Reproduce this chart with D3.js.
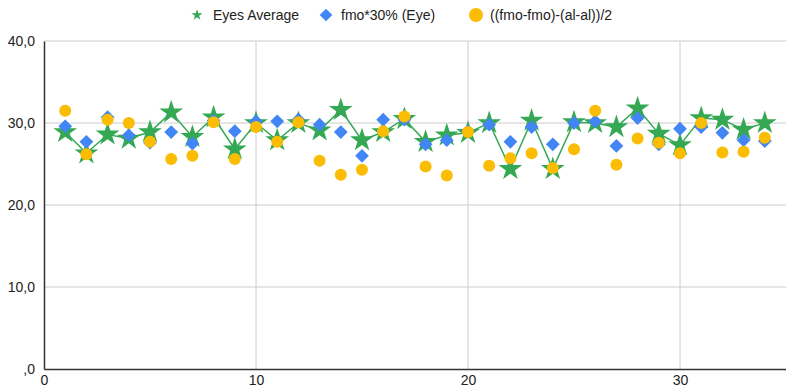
<!DOCTYPE html>
<html>
<head>
<meta charset="utf-8">
<script src="https://cdn.jsdelivr.net/npm/d3@7"></script>
<style>
  body { margin: 0; background: #fff; }
  svg { display: block; font-family: "Liberation Sans", Arial, sans-serif; }
</style>
</head>
<body>
<svg id="chart" width="786" height="392"></svg>
<script>
// Chart data
const seriesNames = ["Eyes Average", "fmo*30% (Eye)", "((fmo-fmo)-(al-al))/2"];
const xValues = d3.range(1, 35);
const eyesAverage = [28.9, 26.3, 28.6, 28.1, 28.9, 31.3, 28.3, 30.7, 26.8, 30.0,
  27.9, 30.0, 29.1, 31.6, 27.9, 28.9, 30.5, 27.7, 28.5, 28.8,
  30.0, 24.4, 30.3, 24.4, 30.1, 30.0, 29.5, 31.8, 28.7, 27.3,
  30.6, 30.4, 29.2, 30.0];
const fmoEye = [29.6, 27.7, 30.7, 28.5, 27.6, 28.9, 27.5, 30.3, 29.0, 30.2,
  30.2, 30.4, 29.8, 28.9, 26.0, 30.4, 30.4, 27.4, 27.9, 29.0,
  29.8, 27.7, 29.5, 27.4, 30.0, 30.2, 27.2, 30.6, 27.4, 29.3,
  29.5, 28.8, 27.9, 27.8];
const diffHalf = [31.5, 26.2, 30.4, 30.0, 27.7, 25.6, 26.0, 30.1, 25.6, 29.5,
  27.7, 30.1, 25.4, 23.7, 24.3, 29.0, 30.8, 24.7, 23.6, 28.9,
  24.8, 25.7, 26.3, 24.5, 26.8, 31.5, 24.9, 28.1, 27.6, 26.3,
  30.0, 26.4, 26.5, 28.2];
const xTicks = [0, 10, 20, 30];
const yTicks = [0, 10, 20, 30, 40];

const colors = ["#34a853", "#4285f4", "#fbbc04"];

const svg = d3.select("#chart");
const margin = { top: 41, right: 0, bottom: 23, left: 44 };
const width = +svg.attr("width");
const height = +svg.attr("height");

const x = d3.scaleLinear().domain([0, 35]).range([margin.left, width - margin.right]);
const y = d3.scaleLinear().domain([0, 40]).range([height - margin.bottom, margin.top]);

// Gridlines
svg.append("g")
  .selectAll("line")
  .data(yTicks.filter(d => d > 0))
  .enter().append("line")
  .attr("x1", x(0)).attr("x2", width)
  .attr("y1", d => y(d)).attr("y2", d => y(d))
  .attr("stroke", "#cccccc").attr("stroke-width", 1);

svg.append("g")
  .selectAll("line")
  .data(xTicks.filter(d => d > 0))
  .enter().append("line")
  .attr("x1", d => x(d)).attr("x2", d => x(d))
  .attr("y1", y(40)).attr("y2", y(0))
  .attr("stroke", "#cccccc").attr("stroke-width", 1);

// Axes
const yAxis = d3.axisLeft(y).tickValues(yTicks).tickSize(0).tickPadding(9)
  .tickFormat(d => d === 0 ? ",0" : d3.format(".1f")(d).replace(".", ","));
svg.append("g")
  .attr("transform", `translate(${x(0)},0)`)
  .call(yAxis)
  .call(g => g.select(".domain").attr("stroke", "#333").attr("stroke-width", 1.5))
  .call(g => g.selectAll("text").attr("fill", "#222").attr("font-size", 14)
    .attr("font-family", "'Liberation Sans', Arial, sans-serif"));

const xAxis = d3.axisBottom(x).tickValues(xTicks).tickSize(0).tickPadding(6);
svg.append("g")
  .attr("transform", `translate(0,${y(0)})`)
  .call(xAxis)
  .call(g => g.select(".domain").attr("stroke", "#333").attr("stroke-width", 1.5))
  .call(g => g.selectAll("text").attr("fill", "#222").attr("font-size", 14)
    .attr("font-family", "'Liberation Sans', Arial, sans-serif"));

// Eyes Average line + stars
const line = d3.line().x((d, i) => x(xValues[i])).y(d => y(d));
svg.append("path")
  .datum(eyesAverage)
  .attr("d", line)
  .attr("fill", "none")
  .attr("stroke", colors[0])
  .attr("stroke-width", 1.5);

const star = d3.symbol().type(d3.symbolStar).size(175);
svg.append("g")
  .selectAll("path")
  .data(eyesAverage)
  .enter().append("path")
  .attr("d", star)
  .attr("transform", (d, i) => `translate(${x(xValues[i])},${y(d)})`)
  .attr("fill", colors[0]);

// fmo*30% diamonds
const diamond = d3.symbol().type(d3.symbolSquare).size(95);
svg.append("g")
  .selectAll("path")
  .data(fmoEye)
  .enter().append("path")
  .attr("d", diamond)
  .attr("transform", (d, i) => `translate(${x(xValues[i])},${y(d)}) rotate(45)`)
  .attr("fill", colors[1]);

// diff/2 circles
svg.append("g")
  .selectAll("circle")
  .data(diffHalf)
  .enter().append("circle")
  .attr("cx", (d, i) => x(xValues[i]))
  .attr("cy", d => y(d))
  .attr("r", 6)
  .attr("fill", colors[2]);

// Legend
const legendItems = [
  { name: seriesNames[0], cx: 197, tx: 213 },
  { name: seriesNames[1], cx: 326, tx: 341 },
  { name: seriesNames[2], cx: 476, tx: 490 }
];
const legend = svg.append("g").attr("class", "legend");
legendItems.forEach((item, i) => {
  const g = legend.append("g");
  if (i === 0) {
    g.append("path")
      .attr("d", d3.symbol().type(d3.symbolStar).size(38))
      .attr("transform", `translate(${item.cx},15)`)
      .attr("fill", colors[0]);
  } else if (i === 1) {
    g.append("path")
      .attr("d", d3.symbol().type(d3.symbolSquare).size(80))
      .attr("transform", `translate(${item.cx},15) rotate(45)`)
      .attr("fill", colors[1]);
  } else {
    g.append("circle")
      .attr("cx", item.cx).attr("cy", 15).attr("r", 7)
      .attr("fill", colors[2]);
  }
  g.append("text")
    .attr("x", item.tx).attr("y", 15)
    .attr("dy", "0.35em")
    .attr("font-size", 14)
    .attr("fill", "#222")
    .text(item.name);
});
</script>
</body>
</html>
